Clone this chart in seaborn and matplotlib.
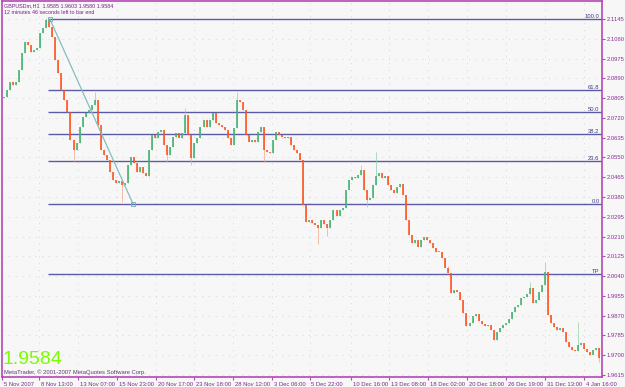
import numpy as np
import pandas as pd
import matplotlib
matplotlib.use("Agg")
import matplotlib.pyplot as plt
import matplotlib.transforms as mtransforms
import seaborn as sns

# ---------------- data ----------------
first_open = 2.0806
closes = [
    2.0810, 2.0840, 2.0874, 2.0861, 2.0874, 2.0926, 2.0999, 2.1046, 2.1033, 2.1003,
    2.1012, 2.1020, 2.1085, 2.1106, 2.1141, 2.1111, 2.1068, 2.0969, 2.0913, 2.0840,
    2.0797, 2.0745, 2.0625, 2.0582, 2.0612, 2.0681, 2.0724, 2.0741, 2.0754, 2.0775,
    2.0797, 2.0689, 2.0582, 2.0561, 2.0539, 2.0487, 2.0453, 2.0440, 2.0449, 2.0432,
    2.0440, 2.0518, 2.0552, 2.0526, 2.0487, 2.0509, 2.0483, 2.0470, 2.0582, 2.0646,
    2.0634, 2.0659, 2.0668, 2.0604, 2.0561, 2.0595, 2.0638, 2.0655, 2.0634, 2.0655,
    2.0732, 2.0646, 2.0548, 2.0612, 2.0634, 2.0681, 2.0711, 2.0681, 2.0711, 2.0741,
    2.0698, 2.0689, 2.0681, 2.0668, 2.0634, 2.0604, 2.0677, 2.0797, 2.0788, 2.0754,
    2.0646, 2.0616, 2.0625, 2.0616, 2.0659, 2.0681, 2.0582, 2.0573, 2.0569, 2.0625,
    2.0659, 2.0646, 2.0638, 2.0634, 2.0638, 2.0604, 2.0582, 2.0569, 2.0539, 2.0346,
    2.0273, 2.0281, 2.0268, 2.0260, 2.0247, 2.0281, 2.0264, 2.0247, 2.0281, 2.0324,
    2.0298, 2.0324, 2.0333, 2.0410, 2.0453, 2.0466, 2.0462, 2.0475, 2.0496, 2.0410,
    2.0367, 2.0376, 2.0432, 2.0470, 2.0483, 2.0462, 2.0470, 2.0432, 2.0410, 2.0397,
    2.0423, 2.0436, 2.0389, 2.0281, 2.0217, 2.0182, 2.0195, 2.0165, 2.0195, 2.0208,
    2.0195, 2.0182, 2.0161, 2.0144, 2.0144, 2.0118, 2.0075, 2.0053, 1.9967, 1.9980,
    1.9972, 1.9937, 1.9882, 1.9826, 1.9839, 1.9869, 1.9877, 1.9847, 1.9834, 1.9826,
    1.9830, 1.9809, 1.9766, 1.9800, 1.9817, 1.9830, 1.9839, 1.9856, 1.9886, 1.9907,
    1.9916, 1.9946, 1.9950, 1.9963, 1.9989, 1.9925, 1.9937, 1.9972, 2.0002, 2.0058,
    1.9873, 1.9839, 1.9821, 1.9809, 1.9817, 1.9800, 1.9757, 1.9735, 1.9723, 1.9718,
    1.9744, 1.9753, 1.9727, 1.9714, 1.9701, 1.9723, 1.9731, 1.9688,
]
# isolated shadows (wick extremes) visible in the picture
spike_idx = [14, 23, 30, 39, 54, 60, 62, 77, 86, 104, 107, 118, 120, 123, 147, 174, 179, 190, 197]
spike_price = [2.1150, 2.0531, 2.0831, 2.0359, 2.0531, 2.0762, 2.0518, 2.0831, 2.0531, 2.0178,
               2.0212, 2.0518, 2.0337, 2.0573, 2.0085, 2.0016, 2.0102, 1.9843, 1.9671]

fib_labels = ["100.0", "61.8", "50.0", "38.2", "23.6", "0.0", "TP"]
fib_prices = [2.1144, 2.0840, 2.0745, 2.0651, 2.0535, 2.0350, 2.0049]
fib_start = 14.6

trend_idx = [15.2, 42.7]
trend_price = [2.1144, 2.0350]

y_ticks = [2.1145, 2.1060, 2.0975, 2.0890, 2.0805, 2.0720, 2.0635, 2.0550, 2.0465, 2.0380,
           2.0295, 2.0210, 2.0125, 2.0040, 1.9955, 1.9870, 1.9785, 1.9700, 1.9615]
x_tick_labels = ["5 Nov 2007", "8 Nov 13:00", "13 Nov 07:00", "15 Nov 23:00", "20 Nov 17:00",
                 "23 Nov 18:00", "28 Nov 12:00", "3 Dec 06:00", "5 Dec 22:00", "10 Dec 16:00",
                 "13 Dec 08:00", "18 Dec 02:00", "20 Dec 18:00", "26 Dec 19:00", "31 Dec 13:00",
                 "4 Jan 16:00"]
x_tick_pos = [-0.66, 11.6, 24.5, 37.4, 50.3, 62.9, 75.8, 88.7, 101.2, 114.8,
              127.4, 140.3, 153.2, 166.1, 179.0, 191.9]

title_line1 = "GBPUSDm,H1  1.9585 1.9603 1.9580 1.9584"
title_line2 = "12 minutes 46 seconds left to bar end"
last_price = "1.9584"
copyright_txt = "MetaTrader, \u00a9 2001-2007 MetaQuotes Software Corp."

# ---------------- build table ----------------
opens = [first_open] + closes[:-1]
df = pd.DataFrame({"idx": np.arange(len(closes)), "open": opens, "close": closes})
df["high"] = df[["open", "close"]].max(axis=1)
df["low"] = df[["open", "close"]].min(axis=1)
for i, p in zip(spike_idx, spike_price):
    df.loc[i, "high"] = max(df.loc[i, "high"], p)
    df.loc[i, "low"] = min(df.loc[i, "low"], p)
df["bull"] = df["close"] >= df["open"]

# ---------------- styling ----------------
bg = "#F7F7F7"
purple = "#B448B4"
label_purple = "#8A2E96"
fib_color = "#5A5AA6"
small = 4.2

sns.set_theme(style="white", rc={"axes.facecolor": bg, "figure.facecolor": bg})
plt.rcParams["font.family"] = ["Liberation Sans", "DejaVu Sans"]

fig = plt.figure(figsize=(6.25, 3.87), dpi=100)
ax = fig.add_axes([2 / 625, 10 / 387, 600 / 625, 376 / 387])

# grid of dots
for yv in y_ticks:
    ax.axhline(yv, color="#C9C9C9", lw=0.6, ls=(0, (1, 7)), zorder=0)
for xv in x_tick_pos:
    ax.axvline(xv, color="#C9C9C9", lw=0.6, ls=(0, (1, 7)), zorder=0)

# fibonacci levels
blend = mtransforms.blended_transform_factory(ax.transAxes, ax.transData)
for lab, p in zip(fib_labels, fib_prices):
    ax.hlines(p, fib_start, 200, color=fib_color, lw=1.0, zorder=2)
    ax.text(0.996, p, lab, transform=blend, ha="right", va="bottom",
            fontsize=small, color="#3E3E80", zorder=5)

# candles
bull = df[df["bull"]]
bear = df[~df["bull"]]
ax.vlines(bull["idx"], bull["low"], bull["high"], color="#8FD3A6", lw=0.5, zorder=3)
ax.vlines(bear["idx"], bear["low"], bear["high"], color="#F4A58C", lw=0.5, zorder=3)
body_lo = df[["open", "close"]].min(axis=1)
body_hi = np.maximum(df[["open", "close"]].max(axis=1), body_lo + 0.0003)
ax.vlines(df.loc[df["bull"], "idx"], body_lo[df["bull"]], body_hi[df["bull"]],
          color="#3AAE6A", lw=1.1, zorder=4)
ax.vlines(df.loc[~df["bull"], "idx"], body_lo[~df["bull"]], body_hi[~df["bull"]],
          color="#FF4A12", lw=1.1, zorder=4)

# trend line
sns.lineplot(x=trend_idx, y=trend_price, ax=ax, color="#86BDBD", lw=0.9, zorder=6)
ax.plot(trend_idx, trend_price, ls="none", marker="s", ms=2.2, mfc="none",
        mec="#6FAFB0", mew=0.6, zorder=6)

# axes
ax.set_xlim(-0.66, 197.83)
ax.set_ylim(1.96065, 2.12223)
for s in ax.spines.values():
    s.set_color(purple)
    s.set_linewidth(1.2)
ax.yaxis.tick_right()
ax.set_yticks(y_ticks)
ax.set_yticklabels([f"{v:.4f}" for v in y_ticks])
ax.set_xticks(x_tick_pos)
ax.set_xticklabels(x_tick_labels)
ax.tick_params(axis="y", direction="out", length=2.5, width=0.8, color=purple,
               labelcolor=label_purple, labelsize=small, pad=0.8, right=True, left=False)
ax.tick_params(axis="x", direction="out", length=2.5, width=0.8, color=purple,
               labelcolor="#7A2A86", labelsize=small, pad=0.8, bottom=True)
offset = mtransforms.ScaledTranslation(1.5 / 100, 0, fig.dpi_scale_trans)
for lbl in ax.get_xticklabels():
    lbl.set_horizontalalignment("left")
    lbl.set_transform(lbl.get_transform() + offset)
ax.set_xlabel("")
ax.set_ylabel("")

# texts
fig.text(4 / 625, 1 - 5.5 / 387, title_line1, fontsize=3.9, color="#7A1E8A", va="center", ha="left")
fig.text(4 / 625, 1 - 13 / 387, title_line2, fontsize=3.9, color="#7A1E8A", va="center", ha="left")
fig.text(3 / 625, 1 - 359 / 387, last_price, fontsize=14, color="#7CFC00", va="center", ha="left")
fig.text(4 / 625, 1 - 372 / 387, copyright_txt, fontsize=small, color="#5E3A66", va="center", ha="left")

fig.savefig("out.png", dpi=100, facecolor=bg)
